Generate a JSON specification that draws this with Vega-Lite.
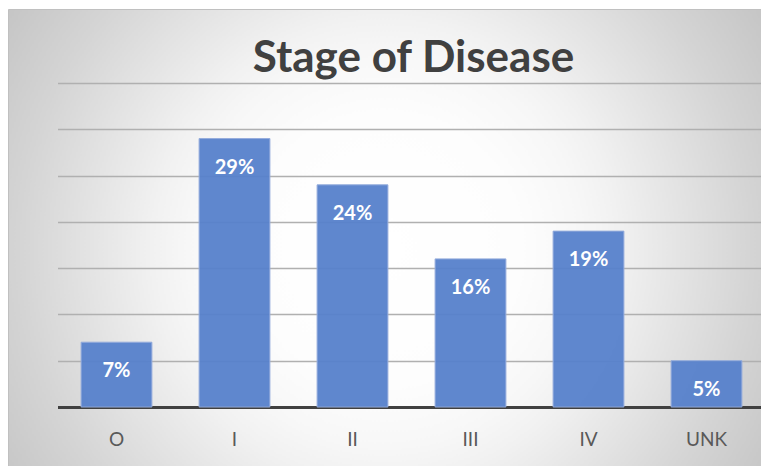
{
  "$schema": "https://vega.github.io/schema/vega-lite/v6.json",
  "width": 753,
  "height": 457,
  "autosize": "none",
  "padding": {"left": 8, "top": 9, "right": 0, "bottom": 0},
  "background": "#ffffff",
  "view": {
    "fill": {
      "gradient": "radial",
      "x1": 0.5, "y1": 0.515, "r1": 0,
      "x2": 0.5, "y2": 0.515, "r2": 0.594,
      "stops": [
        {"offset": 0, "color": "#ffffff"},
        {"offset": 0.3, "color": "#fdfdfd"},
        {"offset": 0.44, "color": "#f7f7f7"},
        {"offset": 0.52, "color": "#f1f1f1"},
        {"offset": 0.82, "color": "#d4d4d4"},
        {"offset": 1, "color": "#c5c5c5"}
      ]
    },
    "stroke": "#c0c0c0",
    "strokeWidth": 1
  },
  "title": {
    "text": "Stage of Disease",
    "font": "Lato",
    "fontSize": 44,
    "fontWeight": "bold",
    "color": "#404040",
    "anchor": "middle",
    "frame": "group",
    "baseline": "alphabetic",
    "offset": -107,
    "dx": 29
  },
  "data": {
    "values": [
      {"stage": "O", "pct": 0.07},
      {"stage": "I", "pct": 0.29},
      {"stage": "II", "pct": 0.24},
      {"stage": "III", "pct": 0.16},
      {"stage": "IV", "pct": 0.19},
      {"stage": "UNK", "pct": 0.05}
    ]
  },
  "encoding": {
    "x": {
      "field": "stage",
      "type": "nominal",
      "sort": null,
      "scale": {"range": [49.5, 757.5], "paddingInner": 0.4, "paddingOuter": 0.2},
      "axis": {
        "orient": "bottom",
        "offset": -59,
        "title": null,
        "labelAngle": 0,
        "ticks": false,
        "grid": false,
        "domainColor": "#404040",
        "domainWidth": 3,
        "labelFont": "Lato",
        "labelFontSize": 19,
        "labelColor": "#595959",
        "labelPadding": 38,
        "labelBaseline": "alphabetic"
      }
    },
    "y": {
      "field": "pct",
      "type": "quantitative",
      "scale": {"domain": [0, 0.35], "range": [398, 74], "nice": false, "zero": true},
      "axis": {
        "values": [0.05, 0.1, 0.15, 0.2, 0.25, 0.3, 0.35],
        "grid": true,
        "labels": false,
        "ticks": false,
        "domain": false,
        "title": null,
        "gridWidth": 1.5,
        "gridColor": "#b0b0b0",
        "encode": {
          "grid": {
            "update": {
              "stroke": {"signal": "datum.value >= 0.349 ? '#d2d2d2' : datum.value >= 0.299 ? '#c6c6c6' : datum.value >= 0.249 ? '#bababa' : datum.value >= 0.199 ? '#b0b0b0' : datum.value >= 0.149 ? '#a6a6a6' : datum.value >= 0.099 ? '#9c9c9c' : '#909090'"}
            }
          }
        }
      }
    }
  },
  "layer": [
    {
      "mark": {"type": "bar", "color": "#5681cb", "fillOpacity": 0.95, "stroke": "#94acdc", "strokeWidth": 1}
    },
    {
      "mark": {"type": "text", "color": "#ffffff", "font": "Lato", "fontWeight": "bold", "fontSize": 20, "baseline": "alphabetic", "dy": 35},
      "encoding": {"text": {"field": "pct", "type": "quantitative", "format": ".0%"}}
    }
  ]
}
